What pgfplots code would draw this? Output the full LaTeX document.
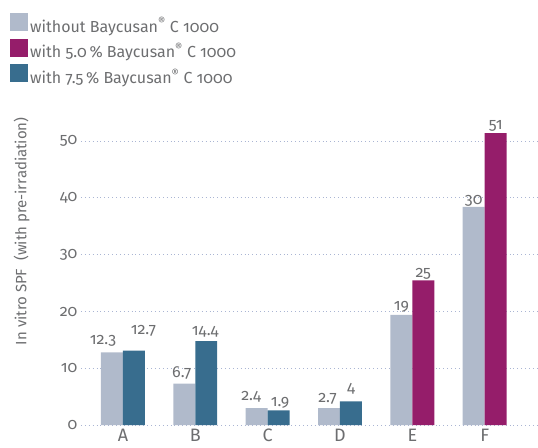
\documentclass[border=0pt]{standalone}
\usepackage{fontspec}
\setmainfont{Fira Sans}[Numbers=OldStyle]
\usepackage{pgfplots}
\usepackage{pgfplotstable}
\pgfplotsset{compat=1.18}
\definecolor{cwo}{HTML}{B0BACB}
\definecolor{cfive}{HTML}{951D6A}
\definecolor{cseven}{HTML}{386D8E}
\definecolor{txt}{HTML}{6D6E70}
\definecolor{grd}{HTML}{AAB5D3}
\pgfplotstableread{
x y lab dx dy
0 12.8 12.3 -9 7.7
1 7.3 6.7 -2.5 6
2 3.0 2.4 -5.5 8
3 3.0 2.7 -1.5 6
4 19.4 19 0 4.3
5 38.4 30 0 2
}\wo
\pgfplotstableread{
x y lab dx dy
4 25.5 25 0 2.3
5 51.4 51 0 4
}\five
\pgfplotstableread{
x y lab dx dy
0 13.1 12.7 9.5 16
1 14.8 14.4 -1 6
2 2.6 1.9 1.5 4
3 4.2 4 0 9
}\seven
\begin{document}
\begin{tikzpicture}
\begin{axis}[
  scale only axis, width=457pt, height=298.5pt,
  xmin=-0.58, xmax=5.73, ymin=0, ymax=52.5,
  axis line style={draw=none}, major tick length=0pt,
  ytick={0,10,20,30,40,50},
  xtick={0,1,2,3,4,5}, xticklabels={A,B,C,D,E,F},
  ymajorgrids, grid style={line width=0.9pt, grd, dash pattern=on 0.9pt off 3pt},
  /pgf/number format/assume math mode=true,
  tick label style={font=\fontsize{16}{19}\selectfont, text=txt},
  xticklabel style={font=\fontsize{18}{21}\selectfont},
  ylabel={In vitro SPF\ \ (with pre-irradiation)},
  ylabel style={at={(axis description cs:-0.13,0.65)}, anchor=center, font=\fontsize{15}{18}\selectfont, text=txt},
  clip=false,
  ybar, bar width=22pt,
  visualization depends on={\thisrow{dx} \as \dx},
  visualization depends on={\thisrow{dy} \as \dy},
  point meta=explicit symbolic,
  nodes near coords,
  nodes near coords style={anchor=base, inner sep=0pt, xshift={\dx pt}, yshift={\dy pt}, font=\fontsize{16}{19}\selectfont, text=txt},
  legend style={at={(rel axis cs:0,1)}, anchor=north west, xshift=-71pt, yshift=114pt, draw=none, fill=none, inner sep=0pt, font=\fontsize{16}{19}\selectfont, text=txt, row sep=3pt, nodes={inner sep=2pt}},
  legend cell align=left,
  legend image code/.code={\fill[#1] (0pt,-5.5pt) rectangle (18pt,12.5pt);},
]
\addplot[fill=cwo, draw=none, bar shift=-11pt] table[x=x, y=y, meta=lab] {\wo};
\addplot[fill=cfive, draw=none, bar shift=11pt] table[x=x, y=y, meta=lab] {\five};
\addplot[fill=cseven, draw=none, bar shift=11pt] table[x=x, y=y, meta=lab] {\seven};
\legend{without Baycusan\textsuperscript{\textregistered} C 1000, with 5.0\,\% Baycusan\textsuperscript{\textregistered} C 1000, with 7.5\,\% Baycusan\textsuperscript{\textregistered} C 1000}
\path ([xshift=-81pt, yshift=-22.5pt] rel axis cs:0,0) rectangle ([yshift=127pt] rel axis cs:1,1);
\end{axis}
\end{tikzpicture}
\end{document}
